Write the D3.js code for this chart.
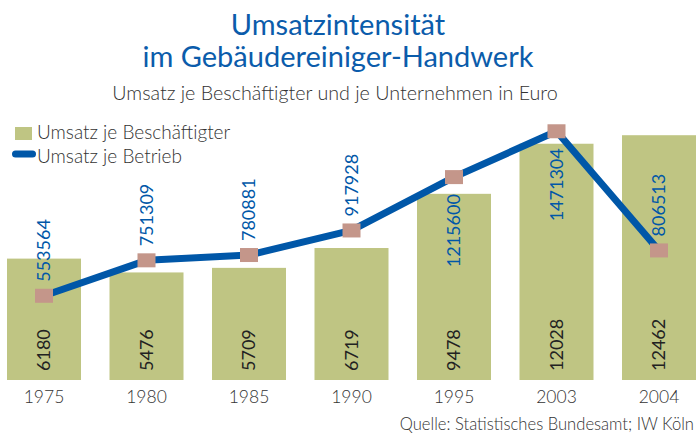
<!DOCTYPE html>
<html>
<head>
<meta charset="utf-8">
<script src="https://cdn.jsdelivr.net/npm/d3@7"></script>
<style>
  body { margin: 0; background: #fff; }
  text { font-family: Lato, "Open Sans", sans-serif; }
</style>
</head>
<body>
<div id="myChart"></div>
<script>
// Data
let years = ["1975", "1980", "1985", "1990", "1995", "2003", "2004"];
let perEmployee = [6180, 5476, 5709, 6719, 9478, 12028, 12462];
let perBusiness = [553564, 751309, 780881, 917928, 1215600, 1471304, 806513];
// where the blue value label sits relative to its point
let labelSide = ["above", "above", "above", "above", "below", "below", "above"];

let width = 696,
  height = 441;

let svg = d3
  .select("#myChart")
  .append("svg")
  .attr("width", width)
  .attr("height", height);

let data = years.map((y, i) => ({
  year: y,
  emp: perEmployee[i],
  biz: perBusiness[i],
  side: labelSide[i],
}));

// Scales
let x = d3.scaleBand().domain(years).range([7, 696]).paddingInner(0.278).paddingOuter(0);
let yBar = d3.scaleLinear().domain([0, 14000]).range([380, 105]);
let yLine = d3.scaleLinear().domain([0, 2000000]).range([395, 36.5]);

let cx = (d) => x(d.year) + x.bandwidth() / 2;

// Title
svg
  .append("text")
  .attr("x", 338)
  .attr("y", 35)
  .attr("text-anchor", "middle")
  .style("font-size", "29px")
  .style("fill", "#0b5cab")
  .text("Umsatzintensität");

svg
  .append("text")
  .attr("x", 338)
  .attr("y", 67)
  .attr("text-anchor", "middle")
  .style("font-size", "29px")
  .style("fill", "#0b5cab")
  .text("im Gebäudereiniger-Handwerk");

// Subtitle
svg
  .append("text")
  .attr("x", 335)
  .attr("y", 100)
  .attr("text-anchor", "middle")
  .style("font-size", "19.7px")
  .style("font-weight", 300)
  .style("fill", "#333")
  .text("Umsatz je Beschäftigter und je Unternehmen in Euro");

// Bars
svg
  .selectAll(".bar")
  .data(data)
  .enter()
  .append("rect")
  .attr("class", "bar")
  .attr("x", (d) => x(d.year))
  .attr("y", (d) => yBar(d.emp))
  .attr("width", x.bandwidth())
  .attr("height", (d) => yBar(0) - yBar(d.emp))
  .attr("fill", "#bfc583");

// Bar value labels (rotated, inside the bar foot)
svg
  .selectAll(".barLabel")
  .data(data)
  .enter()
  .append("text")
  .attr("class", "barLabel")
  .attr("transform", (d) => `translate(${cx(d)},${yBar(0) - 9}) rotate(-90)`)
  .attr("dy", "0.36em")
  .attr("text-anchor", "start")
  .style("font-size", "18px")
  .style("fill", "#222")
  .text((d) => d.emp);

// X axis labels
let xAxis = svg
  .append("g")
  .attr("transform", `translate(0,${yBar(0)})`)
  .call(d3.axisBottom(x).tickSize(0).tickPadding(11));
xAxis.select(".domain").remove();
xAxis
  .selectAll(".tick text")
  .style("font-family", "Lato, sans-serif")
  .style("font-size", "17.5px")
  .style("font-weight", 300)
  .style("fill", "#333");

// Line per business
let line = d3
  .line()
  .x((d) => cx(d))
  .y((d) => yLine(d.biz));

svg
  .append("path")
  .datum(data)
  .attr("d", line)
  .attr("fill", "none")
  .attr("stroke", "#0057a8")
  .attr("stroke-width", 7)
  .attr("stroke-linejoin", "round");

// Square markers
svg
  .selectAll(".marker")
  .data(data)
  .enter()
  .append("rect")
  .attr("class", "marker")
  .attr("x", (d) => cx(d) - 9)
  .attr("y", (d) => yLine(d.biz) - 7)
  .attr("width", 18)
  .attr("height", 14)
  .attr("fill", "#c4968a");

// Blue value labels
svg
  .selectAll(".lineLabel")
  .data(data)
  .enter()
  .append("text")
  .attr("class", "lineLabel")
  .attr("transform", (d) => {
    let yy = d.side === "above" ? yLine(d.biz) - 14 : yLine(d.biz) + 17;
    return `translate(${cx(d)},${yy}) rotate(-90)`;
  })
  .attr("dy", "0.36em")
  .attr("text-anchor", (d) => (d.side === "above" ? "start" : "end"))
  .style("font-size", "18px")
  .style("fill", "#0057a8")
  .text((d) => d.biz);

// Legend
svg
  .append("rect")
  .attr("x", 15)
  .attr("y", 127)
  .attr("width", 17)
  .attr("height", 13)
  .attr("fill", "#bfc583");

svg
  .append("text")
  .attr("x", 37)
  .attr("y", 139)
  .style("font-size", "19px")
  .style("font-weight", 300)
  .style("fill", "#333")
  .text("Umsatz je Beschäftigter");

svg
  .append("line")
  .attr("x1", 15.5)
  .attr("x2", 32.5)
  .attr("y1", 154)
  .attr("y2", 154)
  .attr("stroke", "#0057a8")
  .attr("stroke-width", 7)
  .attr("stroke-linecap", "round");

svg
  .append("text")
  .attr("x", 37)
  .attr("y", 163)
  .style("font-size", "19px")
  .style("font-weight", 300)
  .style("fill", "#333")
  .text("Umsatz je Betrieb");

// Source
svg
  .append("text")
  .attr("x", 694)
  .attr("y", 430)
  .attr("text-anchor", "end")
  .style("font-size", "16.6px")
  .style("font-weight", 300)
  .style("fill", "#333")
  .text("Quelle: Statistisches Bundesamt; IW Köln");
</script>
</body>
</html>
